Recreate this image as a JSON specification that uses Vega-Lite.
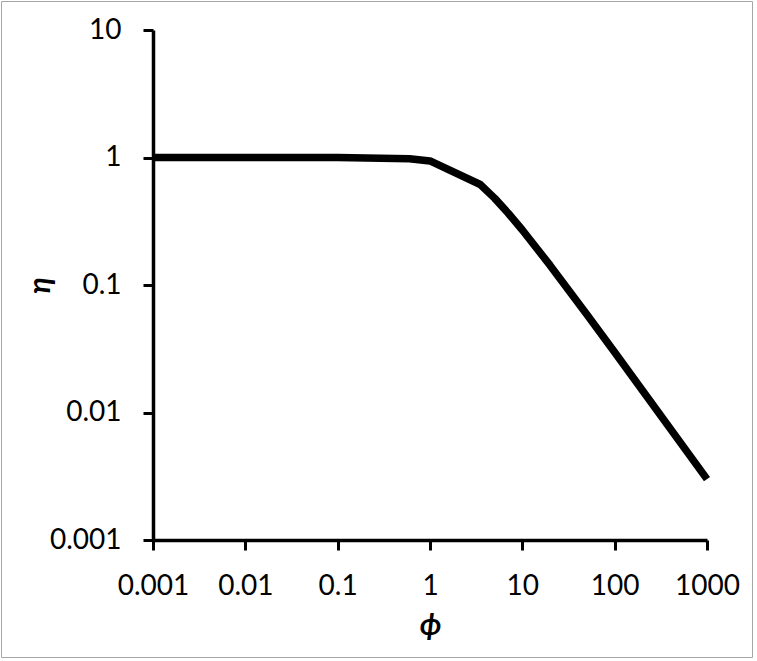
{
  "$schema": "https://vega.github.io/schema/vega-lite/v6.json",
  "width": 751,
  "height": 656,
  "autosize": {"type": "none"},
  "padding": {"left": 1, "top": 1, "right": 5, "bottom": 4},
  "background": "white",
  "config": {
    "view": {"stroke": "#a6a6a6", "strokeWidth": 1},
    "font": "Lato",
    "axis": {
      "grid": false,
      "domainColor": "black",
      "domainWidth": 3.5,
      "tickColor": "black",
      "tickWidth": 3,
      "tickSize": 10,
      "labelFont": "Lato",
      "labelFontSize": 28,
      "labelColor": "black",
      "labelPadding": 22,
      "labelOverlap": false,
      "labelFlush": false,
      "labelBound": false,
      "titleFont": "Lato",
      "titleFontSize": 30,
      "titleFontStyle": "italic",
      "titleFontWeight": "bold",
      "titleColor": "black"
    }
  },
  "data": {
    "values": [
      {"phi": 0.001, "eta": 1.0},
      {"phi": 0.01, "eta": 1.0},
      {"phi": 0.1, "eta": 0.999},
      {"phi": 0.6, "eta": 0.977},
      {"phi": 1, "eta": 0.94},
      {"phi": 3.5, "eta": 0.614},
      {"phi": 5, "eta": 0.48},
      {"phi": 7, "eta": 0.367},
      {"phi": 10, "eta": 0.27},
      {"phi": 20, "eta": 0.1425},
      {"phi": 50, "eta": 0.0588},
      {"phi": 100, "eta": 0.0297},
      {"phi": 1000, "eta": 0.003}
    ]
  },
  "mark": {
    "type": "line",
    "color": "black",
    "strokeWidth": 7.5,
    "strokeCap": "butt",
    "strokeJoin": "round",
    "clip": false
  },
  "encoding": {
    "x": {
      "field": "phi",
      "type": "quantitative",
      "scale": {"type": "log", "domain": [0.001, 1000], "range": [152, 706]},
      "axis": {
        "title": "ϕ",
        "orient": "bottom",
        "offset": -117,
        "values": [0.001, 0.01, 0.1, 1, 10, 100, 1000],
        "format": "~g",
        "titlePadding": 10
      }
    },
    "y": {
      "field": "eta",
      "type": "quantitative",
      "scale": {"type": "log", "domain": [0.001, 10], "range": [539, 29]},
      "axis": {
        "title": "η",
        "orient": "left",
        "offset": -152,
        "values": [0.001, 0.01, 0.1, 1, 10],
        "format": "~g",
        "titlePadding": -6
      }
    }
  }
}
